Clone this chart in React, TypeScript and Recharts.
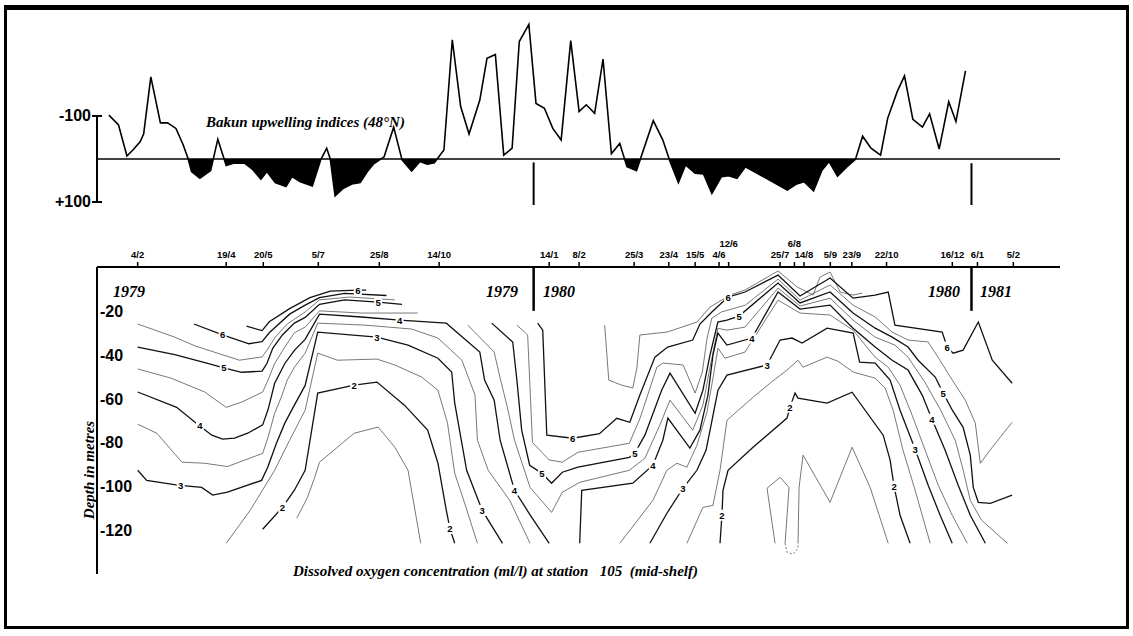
import React from "react";
import {
  ComposedChart,
  Line,
  Area,
  Scatter,
  XAxis,
  YAxis,
  ReferenceLine,
} from "recharts";

type P = [number, number];

// ---- Bakun upwelling index (48°N), x = days since 1 Jan 1979 ----
const bakunDays = [
  10, 18, 25, 30, 36, 39, 45, 53, 59, 66, 72, 76, 79, 86, 95, 101, 108, 114, 123,
  130, 137, 142, 149, 158, 163, 170, 180, 187, 192, 195, 199, 206, 213, 220, 226,
  231, 240, 248, 255, 263, 270, 276, 282, 290, 297, 304, 311, 320, 326, 333, 340,
  347, 353, 361, 367, 374, 381, 388, 396, 403, 409, 416, 423, 430, 437, 443, 451,
  465, 473, 479, 486, 492, 500, 507, 514, 522, 528, 535, 542, 577, 585, 591, 599,
  606, 612, 619, 627, 634, 640, 647, 655, 661, 669, 675, 682, 690, 696, 704, 712,
  718, 726,
];
const bakunIndex = [
  -102, -79, -7, -21, -40, -58, -191, -84, -84, -71, -33, -2, 29, 45, 27, -46, 15,
  10, 9, 24, 47, 29, 55, 64, 41, 53, 63, 2, -25, 0, 86, 68, 58, 55, 29, 12, -5,
  -74, 2, 28, 6, 12, 9, -21, -277, -122, -58, -137, -234, -243, -9, -25, -273,
  -313, -129, -118, -71, -44, -275, -110, -126, -106, -232, -12, -36, 18, 27, -89,
  -44, 6, 55, 14, 33, 35, 80, 41, 39, 45, 18, 72, 58, 53, 74, 26, 6, 40, 18, 1,
  -53, -25, -9, -95, -157, -193, -92, -74, -105, -23, -133, -87, -205,
];
const upwellingTicks = [-100, 100];

// ---- sampling dates at station 105 ----
const sampleDays = [
  34, 108, 139, 185, 236, 286, 378, 403, 449, 478, 500, 520, 528, 571, 583, 591,
  613, 631, 660, 715, 736, 766,
];
const sampleLabels = [
  "4/2", "19/4", "20/5", "5/7", "25/8", "14/10", "14/1", "8/2", "25/3", "23/4",
  "15/5", "4/6", "12/6", "25/7", "6/8", "14/8", "5/9", "23/9", "22/10", "16/12",
  "6/1", "5/2",
];
const raisedLabels = ["12/6", "6/8"];
const depthTicks = [20, 40, 60, 80, 100, 120];

// ---- oxygen isolines [day, depth m] ----
const oxy1979a6: P[] = [[125,27],[138,29],[144,25],[161,19],[178,14],[195,11],[218,10.5],[225,10.5]];
const oxy1979b6: P[] = [[81,26],[105,31],[127,35],[138,34],[144,30],[161,21.5],[174,17.4],[186,14],[207,12],[242,13]];
const oxy1979_55: P[] = [[34,26],[65,32],[82,36],[119,42.5],[138,41],[142,38],[149,32],[159,26],[174,20.5],[186,15],[211,13.7],[249,15]];
const oxy1979_5: P[] = [[34,36.5],[65,40],[92.5,44],[106,46],[121,48],[138,47.5],[142,44],[147,37],[155,31],[165,25.6],[174,23],[186,17],[207,15],[235,16],[255,17]];
const oxy1979_45: P[] = [[34,46.5],[62,50.7],[90,57],[108,64],[121,61.6],[138.5,57],[143,51.6],[148.5,44],[157,36.5],[165,30],[174,27.4],[186,20],[221,21],[268,21]];
const oxy1979_4: P[] = [[34,57],[66.6,64],[84,71.7],[96,76.7],[105,78.5],[115,78],[126,75.8],[138.5,72],[143,65],[148.5,53],[157,44],[165,38],[174,33],[186,21.5],[221,22.8],[253,24.2],[292,25.6],[320,38.8],[324,51.6],[332,60.7],[337,79],[349,101.8],[362,113],[378,126]];
const oxy1979_35: P[] = [[34,71.7],[50,75.8],[71,89],[90,89.5],[109,91],[138.5,85],[143,77.6],[148.5,66.7],[154,59.4],[159,51.6],[165,45.7],[174,39.3],[184.5,25.6],[224,26.5],[263,28.3],[285,32.4],[305,42.5],[316,58.4],[318,79],[327,92.7],[345,106.4],[362,126]];
const oxy1979_3: P[] = [[34,92.7],[41.5,97.3],[67.5,99.5],[87.5,100.5],[96.7,104],[109,102.7],[137.6,97.3],[142.7,91.3],[150,80.4],[157,71.2],[165,63],[174,54],[184.5,29.7],[234,32],[260,35.6],[285,41.6],[296.5,47.9],[299,62],[309,92.7],[322,111],[339,126]];
const oxy1979_25: P[] = [[108,126],[128,111],[148.5,92.7],[161,79],[174,65.3],[184.5,39.3],[201,42.5],[234,42],[249,44.7],[271.4,50.2],[285,56.2],[293,71.2],[299,94],[307.4,107.8],[318,126]];
const oxy1979_2: P[] = [[138.5,119.6],[155,109.6],[165,101.8],[174,92.7],[184.5,57.5],[215,53.9],[234,52.5],[257,63],[276.4,74.4],[285,89.5],[292,111],[295,119.2],[299,126]];
const oxy1979_15: P[] = [[167,114.6],[176,105],[182,95.9],[186,89],[215,75.8],[235,73],[249,82.2],[260,92.7],[270.6,126]];

const oxy1980_65: P[] = [[424.4,26.5],[427.8,51.6],[438.7,53.9],[447.9,55.2],[451.3,46.1],[453.8,31],[476.4,29.7],[501.5,25.1],[512.4,18.3],[529,12.8],[541.7,10.5],[569.3,1.8],[585.2,9.1],[598.6,12.8],[604.4,4.6],[612.8,2.3],[621.2,11.4],[632,12.8],[639.6,11.9]];
const oxy1980_6: P[] = [[368.4,25.6],[372.6,28.8],[376,76.7],[397.7,78.1],[420,76],[434.5,69],[445.4,70.8],[453.8,58.4],[466.4,41.1],[477,36.5],[498,33.3],[504,26],[514,20.5],[527.5,13.7],[541.7,11.4],[569.3,3.7],[587.7,13.2],[612.8,5],[632,14.2],[650.5,12.8],[661.4,11.4],[667,26.5],[706.5,29.7],[710.7,36.5],[715.7,39.3],[724,37.9],[736.7,25.1],[748.4,42.5],[765,53]];
const oxy1980_55: P[] = [[351,26.5],[360,31],[364,80],[378,88],[389,89],[402,84.5],[445,80.4],[454,68.9],[468,45.7],[473,43.8],[490,44.7],[500,57.5],[506,47.9],[510,32.4],[514,23.3],[522,20.5],[542,17.4],[569.3,5.5],[587.7,15.1],[612.8,8.2],[632,17.4],[650.5,22.8],[664.7,29.7],[678,33.3],[694.8,34.2],[703,41.1],[715,51.6],[725.8,60.7],[734.2,71.2],[738.4,89.5],[748.4,82.2],[765,70.8]];
const oxy1980_5: P[] = [[330,25.6],[347.5,34.2],[351,51.6],[355,74.4],[361.7,90.4],[371.7,94],[380,98.6],[389,93.6],[402,91.3],[445,86.8],[449.6,84.9],[458,76.7],[472,56.2],[479,48.4],[500,66.7],[506.5,56.2],[512.4,40.2],[519,25.1],[526.6,24.2],[536.7,22.4],[569.3,7.3],[587.7,16.4],[612.8,11.4],[632,21],[650.5,27.9],[664.7,32],[678,36.5],[686.4,42.5],[700.7,50.2],[707.4,57.5],[715,65.3],[724,73.1],[730,85.8],[732.5,100.5],[736.7,107.3],[746.8,107.8],[765,104]];
const oxy1980_45: P[] = [[310,26.5],[332,38.8],[337,50.7],[343,63.9],[349,79],[362,100.5],[380,111.9],[389,102.7],[403.5,98.2],[445,92.7],[458,87.2],[470.5,72.1],[479,60.7],[498,74.4],[506.5,63],[512,47],[519,28],[526.6,28.8],[541.7,27.4],[569.3,9.6],[587.7,17.8],[612.8,14.2],[632,24.2],[650.5,32],[667,35.6],[678,41.1],[692,52.5],[705,65],[717.4,79],[724.1,92.7],[730,106.4],[739.5,115.5],[761,126]];
const oxy1980_4: P[] = [[403.5,126],[405.2,101.8],[447.9,98.6],[464.7,90.4],[473,79],[477.2,68.9],[495.6,82.6],[504,74.4],[510.7,58.4],[514.9,40.2],[519,30.1],[526.6,35.6],[547.5,32.4],[569.3,11.4],[587.7,19.2],[612.8,17.4],[632,27.9],[650.5,36.5],[664.7,42.5],[678,47],[689.8,58.4],[698,69.4],[709,83.6],[719.9,99.5],[730,113.2],[742.6,126]];
const oxy1980_35: P[] = [[437,126],[445.4,120.1],[464.7,106.4],[476.4,92.7],[484.8,89.5],[493.1,91.3],[501.5,81.3],[509.9,66.2],[514.9,50.7],[519.1,37],[524.9,41.6],[541.7,38.8],[569.3,15.1],[587.7,21],[612.8,21.9],[632,28.8],[650.5,41.1],[661.4,45.7],[671.3,53.9],[681.4,67.6],[692.3,83.6],[703.2,99.5],[714.9,113.2],[727.5,126]];
const oxy1980_3: P[] = [[462.2,126],[476.4,112.3],[489.8,100.9],[501.5,92.7],[509.1,83.6],[514.1,69.9],[519.1,56.2],[526.6,49.3],[560.1,44.7],[571,33.3],[581,32.4],[589.4,34.7],[610.3,27.9],[632.1,30.1],[637.5,43.4],[650.5,43.8],[663,51.6],[671.3,65.3],[683.9,83.1],[694.8,99.5],[704.8,113.2],[714.9,126]];
const oxy1980_25: P[] = [[493.1,126],[506.5,109.6],[514.9,108.7],[520.8,92.7],[526.6,69.9],[548.4,59.4],[562.6,53],[576.8,47],[586,42.5],[590.2,45.7],[610.3,41.1],[619.5,43],[632.1,47.9],[650.5,50.7],[658.8,55.2],[665.5,65.3],[673.8,83.6],[683.9,101.8],[689.8,113.2],[696.5,126]];
const oxy1980_2: P[] = [[520.8,126],[522.4,113.2],[523.3,101.8],[527.5,92.7],[548.4,82.2],[576.8,68.9],[579.3,63.9],[583.5,57.5],[586,59.8],[610.3,62.1],[631.2,57.1],[657.2,76.7],[663,88.1],[666.3,100],[671.3,113.2],[679.7,126]];
const oxy1980_15a: P[] = [[566.8,126],[560.1,100.9],[571,95.9],[578.5,100.5],[575.2,126]];
const oxy1980_15b: P[] = [[586,126],[586.9,100.5],[590.2,85.8],[612.8,107.3],[631.2,82.2],[646.3,100.5],[661.4,126]];
const oxy1980_15gap: P[] = [[575.2,126],[576.8,130],[581.8,131],[586,128.3],[586,126]];

const contours: { level: number; pts: P[]; dashed?: boolean }[] = [
  { level: 6, pts: oxy1979a6 },
  { level: 6, pts: oxy1979b6 },
  { level: 5.5, pts: oxy1979_55 },
  { level: 5, pts: oxy1979_5 },
  { level: 4.5, pts: oxy1979_45 },
  { level: 4, pts: oxy1979_4 },
  { level: 3.5, pts: oxy1979_35 },
  { level: 3, pts: oxy1979_3 },
  { level: 2.5, pts: oxy1979_25 },
  { level: 2, pts: oxy1979_2 },
  { level: 1.5, pts: oxy1979_15 },
  { level: 6.5, pts: oxy1980_65 },
  { level: 6, pts: oxy1980_6 },
  { level: 5.5, pts: oxy1980_55 },
  { level: 5, pts: oxy1980_5 },
  { level: 4.5, pts: oxy1980_45 },
  { level: 4, pts: oxy1980_4 },
  { level: 3.5, pts: oxy1980_35 },
  { level: 3, pts: oxy1980_3 },
  { level: 2.5, pts: oxy1980_25 },
  { level: 2, pts: oxy1980_2 },
  { level: 1.5, pts: oxy1980_15a },
  { level: 1.5, pts: oxy1980_15b },
  { level: 1.5, pts: oxy1980_15gap, dashed: true },
];

const contourLabels: [number, number, string][] = [
  [105, 31, "6"], [218, 10.5, "6"], [106, 46, "5"], [235, 16, "5"],
  [86, 72.5, "4"], [253, 24.2, "4"], [349, 101.8, "4"],
  [70, 99.6, "3"], [234, 32, "3"], [322, 111, "3"],
  [155, 109.6, "2"], [215, 53.9, "2"], [295, 119.2, "2"],
  [372, 94, "5"], [449.6, 84.9, "5"], [536.7, 22.4, "5"], [707.4, 57.5, "5"],
  [397.7, 78.1, "6"], [527.5, 13.7, "6"], [710.7, 36.5, "6"],
  [464.7, 90.4, "4"], [547.5, 32.4, "4"], [698, 69.4, "4"],
  [489.8, 100.9, "3"], [560.1, 44.7, "3"], [683.9, 83.1, "3"],
  [522.4, 113.2, "2"], [579.3, 63.9, "2"], [666.3, 100, "2"],
];

const SANS = "'Liberation Sans', Arial, sans-serif";
const SERIF = "'Liberation Serif', 'Times New Roman', serif";

const bakunRows = bakunDays.map((d, i) => ({ d, v: bakunIndex[i] }));
const bMin = Math.min(...bakunIndex);
const bMax = Math.max(...bakunIndex);
const zeroOffset = (0 - bMin) / (bMax - bMin);
const labelRows = contourLabels.map(([d, z, t]) => ({ d, z, t }));

const UpwellingTick = ({ x, y, payload }: any) => (
  <g>
    <line x1={x - 5} x2={x + 5} y1={y} y2={y} stroke="#000" strokeWidth={2} />
    <text x={x - 6} y={y} dy={5.5} textAnchor="end" fontSize={16} fontWeight="bold" fontFamily={SANS} fill="#000">
      {payload.value > 0 ? `+${payload.value}` : `${payload.value}`}
    </text>
  </g>
);

const DateTick = ({ x, y, payload }: any) => {
  const label = sampleLabels[sampleDays.indexOf(payload.value)];
  const raised = raisedLabels.includes(label);
  return (
    <text x={x} y={raised ? y - 15 : y - 4} textAnchor="middle" fontSize={9.5} fontWeight="bold" fontFamily={SANS} fill="#000">
      {label}
    </text>
  );
};

const DepthTick = ({ x, y, payload }: any) => (
  <text x={x + 3} y={y} dy={6} textAnchor="start" fontSize={16} fontWeight="bold" fontFamily={SANS} fill="#000">
    {`-${payload.value}`}
  </text>
);

const IsoLabel = (props: any) => {
  const { cx, cy, payload } = props;
  return (
    <g>
      <rect x={cx - 4} y={cy - 5.5} width={8} height={11} fill="#fff" />
      <text x={cx} y={cy + 3.5} textAnchor="middle" fontSize={9.5} fontWeight="bold" fontFamily={SANS} fill="#000">
        {payload.t}
      </text>
    </g>
  );
};

export default function App() {
  return (
    <div style={{ position: "absolute", left: 0, top: 0, width: 1133, height: 636, background: "#fff", overflow: "hidden" }}>
      {/* frame */}
      <div
        style={{
          position: "absolute", left: 4, top: 5, width: 1125, height: 624, boxSizing: "border-box",
          borderStyle: "solid", borderColor: "#000", borderWidth: "5px 3px 3px 3px",
        }}
      />

      {/* upwelling panel */}
      <div style={{ position: "absolute", left: 0, top: 0 }}>
        <ComposedChart width={1133} height={230} data={bakunRows} margin={{ top: 17, right: 73, bottom: 19.4, left: 57 }}>
          <defs>
            <linearGradient id="bakunFill" x1="0" y1="0" x2="0" y2="1">
              <stop offset={zeroOffset} stopColor="#000" stopOpacity={0} />
              <stop offset={zeroOffset} stopColor="#000" stopOpacity={1} />
            </linearGradient>
          </defs>
          <XAxis dataKey="d" type="number" domain={[0, 805]} hide allowDataOverflow />
          <YAxis
            type="number"
            domain={[-330, 120]}
            reversed
            ticks={upwellingTicks}
            interval={0}
            width={40}
            axisLine={false}
            tickLine={false}
            tickSize={0}
            tickMargin={0}
            tick={<UpwellingTick />}
            allowDataOverflow
          />
          <ReferenceLine segment={[{ x: 0, y: -100 }, { x: 0, y: 100 }]} stroke="#000" strokeWidth={2} ifOverflow="visible" />
          <Area dataKey="v" type="linear" baseValue={0} stroke="none" fill="url(#bakunFill)" fillOpacity={1} isAnimationActive={false} />
          <ReferenceLine y={0} stroke="#000" strokeWidth={1.6} />
          <ReferenceLine segment={[{ x: 365, y: 8 }, { x: 365, y: 107 }]} stroke="#000" strokeWidth={2} ifOverflow="visible" />
          <ReferenceLine segment={[{ x: 731, y: 10 }, { x: 731, y: 107 }]} stroke="#000" strokeWidth={2} ifOverflow="visible" />
          <Line dataKey="v" type="linear" stroke="#000" strokeWidth={1.6} dot={false} activeDot={false} isAnimationActive={false} />
        </ComposedChart>
      </div>

      {/* oxygen section panel */}
      <div style={{ position: "absolute", left: 0, top: 230 }}>
        <ComposedChart width={1133} height={406} margin={{ top: 7, right: 73, bottom: 62, left: 57 }}>
          <XAxis
            dataKey="d"
            type="number"
            domain={[0, 805]}
            orientation="top"
            ticks={sampleDays}
            interval={0}
            height={30}
            tickSize={5}
            tickMargin={0}
            axisLine={{ stroke: "#000", strokeWidth: 2 }}
            tickLine={{ stroke: "#000", strokeWidth: 1.5 }}
            tick={<DateTick />}
            allowDataOverflow
          />
          <YAxis
            dataKey="z"
            type="number"
            domain={[0, 140]}
            reversed
            ticks={depthTicks}
            interval={0}
            width={40}
            tickSize={0}
            tickMargin={0}
            axisLine={{ stroke: "#000", strokeWidth: 2 }}
            tickLine={false}
            tick={<DepthTick />}
            allowDataOverflow
          />
          <ReferenceLine segment={[{ x: 365, y: 0 }, { x: 365, y: 20 }]} stroke="#000" strokeWidth={2.5} />
          <ReferenceLine segment={[{ x: 731, y: 0 }, { x: 731, y: 20 }]} stroke="#000" strokeWidth={2.5} />
          {contours.map((c, i) => {
            const major = Number.isInteger(c.level);
            return (
              <Line
                key={`iso-${i}`}
                data={c.pts.map(([d, z]) => ({ d, z }))}
                dataKey="z"
                type="linear"
                stroke={major ? "#111" : "#555"}
                strokeWidth={major ? 1.3 : 0.8}
                strokeDasharray={c.dashed ? "2 2" : undefined}
                dot={false}
                activeDot={false}
                isAnimationActive={false}
              />
            );
          })}
          <Scatter data={labelRows} dataKey="z" shape={IsoLabel} isAnimationActive={false} />
        </ComposedChart>
      </div>

      {/* text layer */}
      <svg width={1133} height={636} style={{ position: "absolute", left: 0, top: 0, pointerEvents: "none" }}>
        <g fontFamily={SERIF} fontStyle="italic" fontWeight="bold" fill="#000">
          <text x={206} y={127} fontSize={15}>Bakun upwelling indices (48°N)</text>
          <text x={113} y={297} fontSize={16}>1979</text>
          <text x={486} y={297} fontSize={16}>1979</text>
          <text x={543} y={297} fontSize={16}>1980</text>
          <text x={928} y={297} fontSize={16}>1980</text>
          <text x={980} y={297} fontSize={16}>1981</text>
          <text x={293} y={576} fontSize={15} style={{ whiteSpace: "pre" }}>
            {"Dissolved oxygen concentration (ml/l) at station   105  (mid-shelf)"}
          </text>
          <text x={94} y={470} fontSize={15} textAnchor="middle" transform="rotate(-90 94 470)">
            Depth in metres
          </text>
        </g>
      </svg>
    </div>
  );
}
